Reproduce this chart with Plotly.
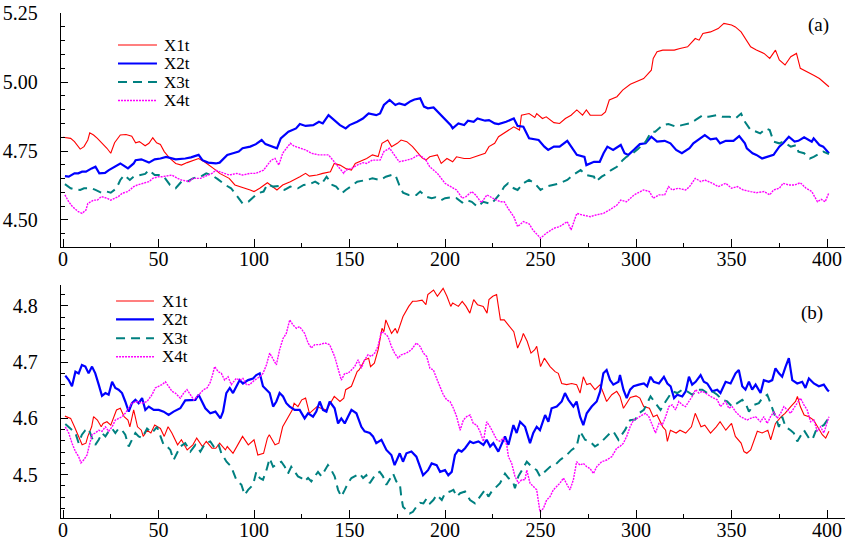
import plotly.graph_objects as go

# ---------------- data ----------------
# Panel (a)
A_X1_T = [0,4,6,9,11,13,14,16,18,21,23,25,27,30,33,36,38,40,43,45,47,49,51,53,56,59,62,65,68,71,74,77,80,82,87,90,93,98,100,103,107,110,112,115,119,124,127,129,133,136,140,142,145,148,151,153,159,162,165,167,170,172,175,177,180,183,186,188,190,192,196,198,201,204,206,210,213,218,221,223,226,228,232,236,239,240,244,247,248,251,253,257,260,263,266,269,272,274,276,282,284,286,290,293,297,300,304,308,309,311,314,316,320,323,327,331,333,335,339,343,346,350,352,355,358,360,363,367,370,373,375,378,381,384,386,390,393,396,399,401]
A_X1 = [4.800,4.796,4.784,4.757,4.766,4.790,4.816,4.808,4.796,4.775,4.760,4.742,4.780,4.808,4.810,4.804,4.780,4.784,4.769,4.778,4.798,4.780,4.774,4.748,4.723,4.705,4.699,4.708,4.715,4.723,4.711,4.697,4.681,4.669,4.651,4.627,4.621,4.609,4.603,4.615,4.635,4.621,4.609,4.627,4.639,4.657,4.669,4.659,4.663,4.669,4.675,4.705,4.699,4.687,4.681,4.705,4.723,4.736,4.730,4.778,4.790,4.766,4.778,4.790,4.784,4.766,4.742,4.725,4.717,4.729,4.736,4.705,4.723,4.711,4.729,4.723,4.723,4.736,4.742,4.766,4.778,4.802,4.820,4.838,4.826,4.880,4.886,4.872,4.886,4.868,4.874,4.853,4.850,4.868,4.880,4.899,4.880,4.899,4.880,4.880,4.892,4.935,4.947,4.971,4.992,5.001,5.013,5.043,5.086,5.110,5.116,5.116,5.116,5.122,5.128,5.158,5.152,5.176,5.182,5.194,5.213,5.207,5.200,5.182,5.152,5.128,5.116,5.104,5.086,5.116,5.080,5.062,5.092,5.104,5.050,5.037,5.025,5.013,4.995,4.983]

A_X2_T = [1,3,6,8,10,12,15,17,19,22,24,27,30,32,34,37,38,41,45,48,51,54,57,59,64,67,71,73,76,80,82,86,89,92,94,98,101,104,106,109,112,114,118,122,124,127,131,134,136,139,141,145,148,150,154,157,159,160,164,166,168,171,174,176,179,182,184,187,189,191,194,196,199,203,204,207,210,212,215,217,221,223,226,228,232,236,238,241,244,249,252,254,257,260,264,266,269,273,274,278,281,283,285,288,292,294,296,299,302,305,308,311,315,318,321,324,328,330,333,336,339,342,344,347,351,354,357,358,361,363,366,369,372,375,377,380,383,385,388,392,393,396,398,401]
A_X2 = [4.659,4.657,4.669,4.669,4.675,4.675,4.687,4.693,4.669,4.671,4.681,4.693,4.705,4.696,4.687,4.705,4.717,4.720,4.708,4.720,4.723,4.729,4.723,4.720,4.723,4.727,4.736,4.717,4.708,4.705,4.708,4.736,4.742,4.748,4.760,4.766,4.775,4.790,4.775,4.768,4.760,4.796,4.820,4.832,4.848,4.841,4.844,4.856,4.850,4.880,4.868,4.844,4.832,4.844,4.856,4.868,4.880,4.886,4.880,4.886,4.917,4.935,4.917,4.923,4.917,4.931,4.937,4.941,4.911,4.905,4.908,4.893,4.874,4.844,4.832,4.850,4.844,4.860,4.856,4.868,4.860,4.862,4.850,4.848,4.856,4.868,4.841,4.838,4.796,4.790,4.766,4.754,4.766,4.766,4.787,4.766,4.736,4.729,4.699,4.711,4.711,4.742,4.766,4.754,4.772,4.742,4.736,4.755,4.775,4.778,4.802,4.784,4.787,4.778,4.754,4.742,4.760,4.778,4.792,4.808,4.792,4.796,4.778,4.787,4.787,4.804,4.778,4.760,4.742,4.736,4.723,4.729,4.736,4.766,4.778,4.802,4.784,4.787,4.800,4.784,4.796,4.772,4.766,4.742]

A_X3_T = [1,4,6,9,11,15,17,20,23,25,28,30,32,35,37,40,43,45,48,51,53,56,59,62,65,68,72,75,78,81,85,88,92,94,97,100,102,105,107,110,113,116,119,123,126,129,132,135,138,141,143,146,148,151,154,159,162,166,169,172,174,176,178,181,185,187,190,193,195,198,200,203,206,209,211,214,217,220,224,226,229,231,233,236,238,241,244,247,250,253,257,260,264,267,271,274,278,279,282,285,287,290,293,295,298,301,305,308,310,314,317,321,324,328,331,335,338,342,345,349,352,355,357,360,363,365,368,370,372,375,377,381,384,385,388,391,393,396,398,401]
A_X3 = [4.630,4.615,4.611,4.609,4.615,4.615,4.609,4.599,4.603,4.599,4.615,4.645,4.663,4.645,4.657,4.663,4.667,4.681,4.663,4.663,4.655,4.627,4.615,4.639,4.639,4.651,4.657,4.669,4.662,4.648,4.627,4.615,4.579,4.560,4.566,4.585,4.597,4.603,4.630,4.621,4.623,4.609,4.621,4.615,4.627,4.630,4.639,4.627,4.657,4.627,4.621,4.597,4.609,4.623,4.639,4.645,4.651,4.645,4.657,4.663,4.663,4.627,4.599,4.591,4.591,4.603,4.585,4.579,4.582,4.572,4.579,4.582,4.579,4.563,4.572,4.566,4.548,4.566,4.558,4.572,4.597,4.621,4.633,4.615,4.609,4.633,4.645,4.633,4.609,4.621,4.627,4.633,4.645,4.663,4.681,4.663,4.657,4.639,4.657,4.669,4.681,4.693,4.717,4.729,4.740,4.757,4.784,4.820,4.820,4.844,4.848,4.838,4.844,4.850,4.862,4.880,4.874,4.880,4.874,4.874,4.868,4.886,4.856,4.826,4.820,4.814,4.832,4.826,4.784,4.778,4.784,4.766,4.772,4.748,4.742,4.723,4.729,4.742,4.748,4.739]

A_X4_T = [1,3,5,8,10,12,13,16,18,20,23,25,29,31,34,37,39,42,45,47,50,52,54,57,60,62,66,68,72,74,78,80,82,84,87,91,94,98,101,105,107,109,111,113,115,119,121,125,127,130,134,137,139,142,145,147,148,151,154,157,159,162,166,168,171,174,176,180,183,186,188,190,192,196,200,203,206,209,211,214,216,219,222,225,229,231,233,236,238,241,244,246,249,250,253,257,260,264,266,269,272,276,279,283,286,290,292,295,299,302,304,307,309,312,315,317,319,322,326,328,331,334,336,340,343,347,350,353,356,360,363,367,370,372,375,377,380,383,386,389,392,395,397,399,401]
A_X4 = [4.591,4.566,4.548,4.530,4.524,4.536,4.560,4.572,4.572,4.585,4.579,4.572,4.585,4.597,4.603,4.621,4.627,4.633,4.639,4.651,4.657,4.657,4.659,4.663,4.651,4.645,4.639,4.651,4.651,4.657,4.669,4.680,4.675,4.669,4.663,4.669,4.663,4.669,4.669,4.681,4.699,4.717,4.723,4.699,4.742,4.778,4.768,4.760,4.754,4.742,4.736,4.736,4.736,4.711,4.687,4.669,4.681,4.687,4.699,4.708,4.705,4.717,4.717,4.748,4.760,4.729,4.711,4.717,4.723,4.736,4.729,4.717,4.693,4.669,4.633,4.621,4.609,4.579,4.585,4.603,4.591,4.563,4.591,4.579,4.566,4.566,4.542,4.512,4.476,4.494,4.486,4.464,4.440,4.434,4.452,4.470,4.476,4.494,4.464,4.524,4.518,4.512,4.518,4.524,4.536,4.554,4.572,4.566,4.591,4.603,4.609,4.603,4.579,4.591,4.591,4.621,4.609,4.615,4.609,4.621,4.651,4.639,4.645,4.633,4.621,4.633,4.615,4.621,4.609,4.603,4.599,4.603,4.591,4.609,4.615,4.633,4.627,4.627,4.635,4.615,4.603,4.566,4.575,4.566,4.599]

# Panel (b)
B_X1_T = [1,4,6,8,10,12,13,15,16,18,20,21,23,25,27,28,30,32,34,35,37,39,41,42,44,46,48,51,53,55,57,60,62,65,68,70,73,75,78,80,82,85,86,89,92,94,97,100,102,105,107,108,111,113,115,118,120,121,123,125,127,129,131,133,135,138,140,142,145,147,148,151,154,155,158,160,161,163,165,167,168,169,172,174,175,178,181,183,185,188,190,191,194,196,199,201,203,204,207,209,211,213,215,217,220,222,223,225,227,229,231,234,236,238,240,241,243,245,247,248,250,252,255,257.6,259.3,261.1,263.7,266.3,268.9,270.7,272.4,274.2,276,278.5,281.2,282.9,284.6,287.3,289.9,291.6,293.4,295.1,297,300,302,304,307,309,311,314,315.5,316.4,318,321,323,326,329,331,334,336,339,342,344,347,350,352,355,356.5,358,360,362,363.5,366,369,370.5,373,376,378,381,383.5,384.5,386,388,390.5,393,395,397.5,399.3,401]
B_X1 = [4.604,4.600,4.585,4.568,4.553,4.556,4.568,4.585,4.603,4.597,4.585,4.591,4.594,4.588,4.606,4.615,4.618,4.603,4.597,4.585,4.615,4.585,4.579,4.568,4.579,4.574,4.588,4.582,4.568,4.585,4.574,4.553,4.562,4.544,4.553,4.565,4.550,4.559,4.547,4.547,4.556,4.544,4.550,4.538,4.556,4.568,4.553,4.562,4.535,4.538,4.565,4.571,4.553,4.556,4.585,4.603,4.615,4.627,4.621,4.633,4.636,4.609,4.615,4.621,4.618,4.615,4.627,4.639,4.630,4.636,4.651,4.657,4.683,4.686,4.704,4.707,4.692,4.698,4.722,4.760,4.754,4.775,4.751,4.760,4.751,4.781,4.799,4.808,4.808,4.810,4.802,4.820,4.828,4.817,4.831,4.817,4.799,4.805,4.799,4.808,4.799,4.787,4.811,4.802,4.799,4.787,4.811,4.817,4.820,4.775,4.775,4.763,4.754,4.725,4.740,4.751,4.737,4.716,4.722,4.728,4.692,4.707,4.692,4.683,4.680,4.662,4.660,4.662,4.660,4.645,4.674,4.660,4.662,4.651,4.660,4.645,4.630,4.642,4.648,4.639,4.618,4.627,4.637,4.640,4.636,4.621,4.618,4.603,4.606,4.585,4.579,4.559,4.579,4.574,4.579,4.574,4.585,4.609,4.585,4.588,4.574,4.585,4.594,4.579,4.591,4.568,4.556,4.541,4.538,4.544,4.562,4.577,4.574,4.579,4.562,4.591,4.603,4.609,4.621,4.630,4.639,4.621,4.606,4.603,4.597,4.585,4.571,4.565,4.577]

B_X2_T = [1.2,3,4.7,6.5,8.2,9.9,11.7,13.4,15.2,16.9,18.7,20.4,22.2,23.9,25.7,27.4,29.1,30.9,32.6,34.4,36.1,37.9,39.6,41.4,43.1,44.9,47.5,50.1,52.7,55.3,57.9,61.4,64,66.7,69.3,71,72.8,74.5,77.1,79.8,82.4,83.8,85.5,87.3,89,90.7,92.5,94.2,96.9,99.5,101.2,103,104.7,106.5,108.2,110,111.7,113.4,115.2,116.9,118.7,121.3,123.9,126.5,128.3,130.9,132.6,134.4,136.1,137.9,139.6,142.2,144,145.7,147.5,149.2,151,153.6,156.2,157.9,160.6,162.3,164,166.7,169.3,171.9,173.6,176.3,178,179.8,182.4,185,186.7,188.5,191.1,193,195.6,197.4,200,201.7,203.5,205.2,207,208.7,210.5,213.1,214.8,217.5,220.1,221.8,223.6,225.3,227.9,229.7,231.4,233.2,235.8,237.5,239.3,241.9,244.5,246.2,248,249.7,252.4,254.1,255.8,258.5,261.1,262.8,264.6,267.2,268.9,270.7,272.4,274.2,276.8,279.4,281.2,282.9,284.6,286.4,288.1,290.8,291.6,293.4,295.1,296.9,298.7,301.5,304.1,305.8,307.6,309.3,312,314.6,316.4,318.1,319.9,321.6,324.2,326,327.7,329.4,331.2,333.8,335.5,337.3,339.9,342.5,344.2,346.9,349.5,352.1,353.8,355.6,357.3,359.1,360.8,362.6,365.2,366.9,369.5,371.3,373,374.8,376.5,378.3,380,381.8,384.4,387,388.7,390.5,393.1,395.7,398.3,400.1,401]
B_X2 = [4.676,4.668,4.657,4.683,4.680,4.695,4.692,4.680,4.692,4.680,4.660,4.640,4.645,4.642,4.665,4.654,4.651,4.645,4.630,4.612,4.627,4.633,4.627,4.636,4.615,4.621,4.615,4.615,4.612,4.606,4.612,4.618,4.632,4.633,4.633,4.642,4.630,4.618,4.609,4.612,4.600,4.612,4.645,4.654,4.645,4.657,4.668,4.662,4.668,4.671,4.677,4.680,4.657,4.651,4.645,4.621,4.630,4.645,4.639,4.627,4.621,4.615,4.615,4.600,4.609,4.603,4.612,4.630,4.615,4.612,4.630,4.618,4.591,4.600,4.591,4.603,4.615,4.609,4.585,4.577,4.574,4.568,4.556,4.562,4.544,4.535,4.517,4.538,4.523,4.538,4.541,4.532,4.514,4.499,4.508,4.520,4.517,4.505,4.508,4.499,4.505,4.535,4.544,4.541,4.547,4.559,4.556,4.559,4.553,4.562,4.550,4.556,4.541,4.556,4.568,4.553,4.588,4.574,4.594,4.585,4.556,4.574,4.585,4.579,4.606,4.594,4.618,4.621,4.630,4.645,4.633,4.621,4.630,4.603,4.588,4.609,4.621,4.630,4.648,4.680,4.686,4.668,4.660,4.665,4.677,4.651,4.636,4.651,4.657,4.660,4.662,4.657,4.674,4.665,4.662,4.674,4.662,4.657,4.636,4.642,4.639,4.648,4.674,4.660,4.665,4.677,4.665,4.662,4.648,4.651,4.645,4.665,4.662,4.680,4.686,4.657,4.651,4.665,4.651,4.660,4.645,4.668,4.665,4.668,4.689,4.680,4.674,4.692,4.707,4.668,4.662,4.665,4.654,4.671,4.662,4.657,4.660,4.651,4.648]

B_X3_T = [1.2,3,4.7,6.5,8.2,9.9,11.7,13.4,15.2,16.9,18.7,20.4,22.2,23.9,25.7,27.4,29.1,30.9,32.6,34.4,36.1,37.9,39.6,41.4,44,46.6,49.2,51,52.7,54.5,56.2,57.9,59.7,61.4,64,66.7,69.3,71.9,74.5,77.1,78.9,81.2,82.9,85.6,88.1,90.7,93.4,95.1,96.9,99.5,101.2,103,104.7,106.5,108.2,110,112.6,114.3,116.1,117.8,119.5,121.3,123,124.8,126.5,128.3,130,131.8,133.5,135.3,137,138.7,140.5,142.2,144,145.7,147.5,149.2,151,153.6,155.3,157.1,158.8,160.6,162.3,164,165.8,167.5,169.3,171,172.8,174.5,176.3,177.1,178,179.8,181.5,183.2,185,186.9,188.7,190.4,192.1,193.9,195.6,198.3,200,202.6,204.4,206.1,207.9,210.5,213.1,215.7,218.3,220.9,222.7,224.4,226.2,228.8,231.4,233.2,235.8,236.6,238.4,240.1,242.8,245.4,248,249.7,252.4,255,257.6,260.2,263.7,266.3,268.9,270.7,273.3,275.9,278.5,281.2,283.8,286.4,288.1,290.8,292.5,294.2,296.9,299.6,301.5,304.1,305.8,307.6,310.2,312.8,315.5,317.3,319,321.6,324.2,326.8,329.5,332.1,334.7,337.3,339.9,342.5,345.1,347.7,350.3,353,355.6,357.3,359.1,361.7,364.3,366.1,368.7,370.4,373,374.8,376.5,378.3,380.9,382.6,384.4,386.1,387.9,390.5,392.3,394,396.6,398.3,400.1,401]
B_X3 = [4.590,4.585,4.579,4.574,4.556,4.571,4.579,4.582,4.565,4.553,4.562,4.574,4.568,4.577,4.582,4.574,4.582,4.579,4.571,4.550,4.562,4.574,4.568,4.565,4.582,4.574,4.585,4.568,4.553,4.550,4.544,4.526,4.538,4.550,4.556,4.541,4.553,4.541,4.556,4.559,4.550,4.556,4.538,4.523,4.514,4.491,4.482,4.464,4.473,4.482,4.505,4.494,4.491,4.508,4.529,4.514,4.520,4.523,4.514,4.502,4.514,4.505,4.497,4.494,4.488,4.494,4.488,4.497,4.505,4.497,4.508,4.517,4.508,4.497,4.473,4.461,4.473,4.485,4.494,4.499,4.502,4.494,4.499,4.485,4.494,4.502,4.505,4.497,4.482,4.491,4.502,4.488,4.485,4.461,4.443,4.437,4.431,4.434,4.443,4.450,4.449,4.458,4.449,4.455,4.464,4.455,4.467,4.470,4.473,4.461,4.467,4.470,4.455,4.449,4.461,4.473,4.461,4.470,4.476,4.485,4.502,4.494,4.485,4.476,4.497,4.508,4.523,4.514,4.508,4.497,4.505,4.514,4.517,4.526,4.535,4.544,4.550,4.577,4.562,4.559,4.550,4.556,4.565,4.574,4.577,4.562,4.571,4.579,4.597,4.598,4.609,4.615,4.627,4.639,4.627,4.615,4.630,4.639,4.648,4.645,4.651,4.648,4.642,4.651,4.651,4.645,4.648,4.642,4.633,4.630,4.621,4.627,4.633,4.627,4.612,4.624,4.627,4.636,4.642,4.627,4.603,4.585,4.603,4.585,4.579,4.574,4.559,4.568,4.579,4.565,4.562,4.577,4.585,4.588,4.597,4.598]

B_X4_T = [1.2,3,4.7,6.5,8.2,9.4,10.8,12.6,13.4,15.2,16.9,18.7,20.4,22.2,23.9,25.7,27.4,29.1,30.9,32.6,34.4,36.1,38.7,41.4,44,46.6,48.3,50.1,51.8,53.6,55.3,57.1,58.8,61.4,63.2,64.9,66.7,68.4,70.2,71.9,73.6,75.4,77.1,78.5,79.4,81.2,82.9,84.6,86.4,88.1,90.7,92.5,94.2,96,97.7,100.3,103,104.7,106.5,108.2,110,111.7,113.4,115.2,116.9,118.7,120.4,122.2,123.9,126.5,128.3,130,131.8,134.4,137,139.6,142.2,144,145.7,147.5,149.2,151,152.7,154.5,156.2,157.9,159.7,161.4,163.2,164.9,166.7,168.4,170.2,171.9,173.6,175.4,177.1,179.8,182.4,185,186.9,188.7,190.4,192.1,193.9,195.6,197.4,199.1,200.9,202.6,204.4,206.1,207.9,209.6,211.3,213.1,214.8,216.6,218.3,220.1,221.8,223.6,225.3,227.1,228.8,230.5,232.3,233.2,234.9,236.6,238.4,240.1,241.9,242.8,244.5,246.2,248,249.7,251.5,253.2,255,256.7,258.5,260.2,262,263.7,265.4,267.2,268.9,270.7,272.4,274.2,275.9,277.7,279.4,282,284.6,287.3,289.9,291.6,293.4,295.1,296.9,298.7,300.6,303.2,305,306.7,308.5,310.2,312,313.7,315.5,317.2,318.9,320.7,322.4,324.2,325.9,327.7,329.4,331.2,332.9,334.6,336.4,339,340.7,342.5,344.2,346.9,348.6,350.3,352.1,354.7,356.5,358.2,359.9,362.6,365.2,366.9,368.7,370.4,372.2,373.9,375.7,377.4,379.2,380.9,382.6,384.4,386.1,387.9,389.6,391.4,393.1,394.9,396.6,398.3,400.1,401]
B_X4 = [4.585,4.574,4.556,4.541,4.532,4.521,4.526,4.535,4.547,4.571,4.574,4.579,4.577,4.585,4.577,4.585,4.597,4.600,4.603,4.609,4.618,4.627,4.630,4.627,4.630,4.642,4.654,4.657,4.660,4.665,4.657,4.648,4.645,4.636,4.645,4.651,4.642,4.633,4.639,4.645,4.651,4.654,4.664,4.680,4.692,4.683,4.680,4.668,4.674,4.660,4.671,4.668,4.671,4.660,4.660,4.668,4.674,4.680,4.695,4.716,4.704,4.695,4.722,4.742,4.751,4.775,4.766,4.760,4.763,4.751,4.734,4.725,4.731,4.731,4.734,4.731,4.710,4.686,4.668,4.680,4.680,4.686,4.692,4.704,4.689,4.704,4.713,4.710,4.716,4.728,4.754,4.751,4.745,4.728,4.716,4.707,4.713,4.716,4.722,4.734,4.728,4.716,4.710,4.689,4.686,4.671,4.657,4.642,4.633,4.630,4.618,4.603,4.579,4.597,4.603,4.606,4.591,4.588,4.577,4.559,4.594,4.585,4.574,4.562,4.559,4.565,4.553,4.532,4.520,4.497,4.485,4.491,4.491,4.508,4.485,4.479,4.473,4.434,4.440,4.455,4.461,4.473,4.479,4.485,4.494,4.482,4.473,4.491,4.523,4.517,4.520,4.514,4.511,4.502,4.514,4.523,4.526,4.532,4.547,4.550,4.556,4.568,4.585,4.597,4.600,4.606,4.609,4.603,4.588,4.574,4.591,4.588,4.603,4.621,4.624,4.615,4.630,4.624,4.621,4.630,4.639,4.651,4.645,4.648,4.645,4.639,4.636,4.633,4.621,4.630,4.618,4.621,4.612,4.603,4.600,4.597,4.600,4.603,4.594,4.603,4.591,4.603,4.612,4.600,4.609,4.621,4.615,4.609,4.618,4.627,4.636,4.624,4.615,4.594,4.597,4.577,4.585,4.574,4.591,4.603]

NAMES = ["X1t", "X2t", "X3t", "X4t"]
X_TICKS = [0, 50, 100, 150, 200, 250, 300, 350, 400]
A_Y_TICKS = [4.50, 4.75, 5.00, 5.25]
A_Y_LABELS = ["4.50", "4.75", "5.00", "5.25"]
B_Y_TICKS = [4.5, 4.6, 4.7, 4.8]
B_Y_LABELS = ["4.5", "4.6", "4.7", "4.8"]
PANEL_LABELS = ["(a)", "(b)"]

# ---------------- styling ----------------
FONT = "Liberation Serif"
STYLES = [
    dict(color="#ff0000", width=1.1, dash="solid"),
    dict(color="#0000ff", width=2.2, dash="solid"),
    dict(color="#008080", width=2.0, dash="9px,6px"),
    dict(color="#ff00ff", width=1.4, dash="2px,1px"),
]

fig = go.Figure()
panel_a = [(A_X1_T, A_X1), (A_X2_T, A_X2), (A_X3_T, A_X3), (A_X4_T, A_X4)]
panel_b = [(B_X1_T, B_X1), (B_X2_T, B_X2), (B_X3_T, B_X3), (B_X4_T, B_X4)]
for (t, v), name, st in zip(panel_a, NAMES, STYLES):
    fig.add_trace(go.Scatter(x=t, y=v, mode="lines", name=name, line=st,
                             xaxis="x", yaxis="y", showlegend=False))
for (t, v), name, st in zip(panel_b, NAMES, STYLES):
    fig.add_trace(go.Scatter(x=t, y=v, mode="lines", name=name, line=st,
                             xaxis="x2", yaxis="y2", showlegend=False))

def xaxis_cfg(anchor):
    return dict(domain=[0, 1], anchor=anchor, range=[-1.05, 409.4],
                tickvals=X_TICKS, ticks="inside", ticklen=8, tickwidth=1,
                tickcolor="black", showline=True, linecolor="black", linewidth=1.3,
                showgrid=False, zeroline=False, ticklabelstandoff=-6,
                tickfont=dict(family=FONT, size=20, color="black"),
                minor=dict(dtick=25, tick0=0, ticks="inside", ticklen=4,
                           tickcolor="black", tickwidth=1, showgrid=False))

def yaxis_cfg(anchor, dom, rng, vals, labels, mdt):
    return dict(domain=dom, anchor=anchor, range=rng, tickvals=vals, ticktext=labels,
                ticks="inside", ticklen=7, tickwidth=1, tickcolor="black",
                showline=True, linecolor="black", linewidth=1.3,
                showgrid=False, zeroline=False, ticklabelstandoff=18,
                tickfont=dict(family=FONT, size=20, color="black"),
                minor=dict(dtick=mdt, tick0=vals[0], ticks="inside", ticklen=4,
                           tickcolor="black", tickwidth=1, showgrid=False))

fig.update_layout(
    width=845, height=544,
    margin=dict(l=61, r=0, t=13, b=26),
    paper_bgcolor="white", plot_bgcolor="white",
    showlegend=False,
    font=dict(family=FONT, color="black"),
    xaxis=xaxis_cfg("y"),
    yaxis=yaxis_cfg("x", [0.5366, 1.0], [4.402, 5.2505], A_Y_TICKS, A_Y_LABELS, 0.05),
    xaxis2=xaxis_cfg("y2"),
    yaxis2=yaxis_cfg("x2", [0.0, 0.4614], [4.423, 4.837], B_Y_TICKS, B_Y_LABELS, 0.02),
)

# hand-placed legends (line sample + label) and panel tags
LEG_A = dict(x0=0.0727, x1=0.1224, xt=0.1288, rows=[0.8632, 0.7842, 0.7051, 0.6261], xr="x domain", yr="y domain")
LEG_B = dict(x0=0.0702, x1=0.1186, xt=0.1263, rows=[0.9313, 0.8528, 0.7712, 0.6923], xr="x2 domain", yr="y2 domain")
for leg in (LEG_A, LEG_B):
    for yy, name, st in zip(leg["rows"], NAMES, STYLES):
        fig.add_shape(type="line", xref=leg["xr"], yref=leg["yr"],
                      x0=leg["x0"], x1=leg["x1"], y0=yy, y1=yy,
                      line=dict(color=st["color"], width=st["width"], dash=st["dash"]))
        fig.add_annotation(xref=leg["xr"], yref=leg["yr"], x=leg["xt"], y=yy,
                           text=name, showarrow=False, xanchor="left", yanchor="middle",
                           font=dict(family=FONT, size=17, color="black"))

fig.add_annotation(xref="x domain", yref="y domain", x=0.9662, y=0.9487, text=PANEL_LABELS[0],
                   showarrow=False, xanchor="center", yanchor="middle",
                   font=dict(family=FONT, size=19, color="black"))
fig.add_annotation(xref="x2 domain", yref="y2 domain", x=0.9573, y=0.8777, text=PANEL_LABELS[1],
                   showarrow=False, xanchor="center", yanchor="middle",
                   font=dict(family=FONT, size=19, color="black"))

fig.write_html("out.html")
